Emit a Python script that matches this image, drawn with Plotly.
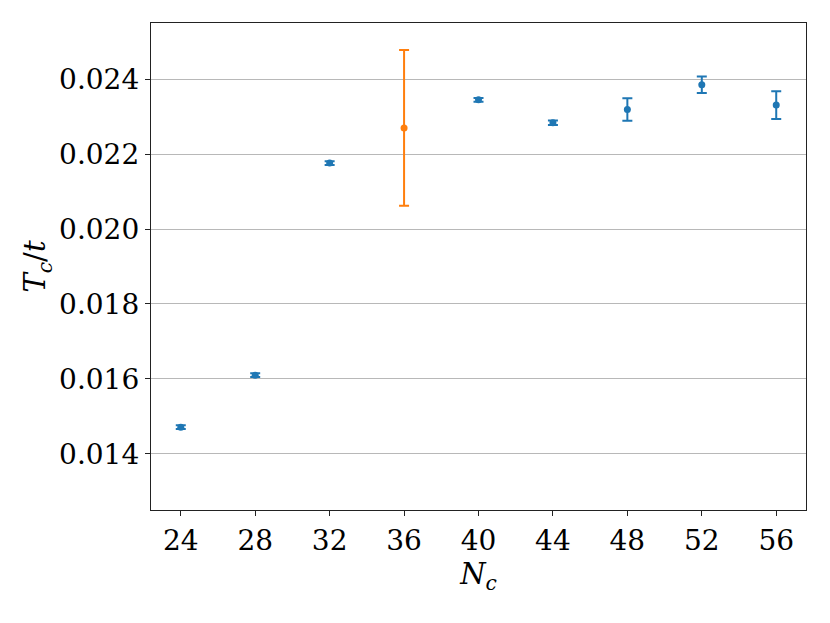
import plotly.graph_objects as go

# blue series
n_blue = [24, 28, 32, 40, 44, 48, 52, 56]
tc_blue = [0.01471, 0.01610, 0.02176, 0.02345, 0.02284, 0.02319, 0.02385, 0.02331]
err_blue = [0.00005, 0.00005, 0.00005, 0.00005, 0.00006, 0.00030, 0.00022, 0.00037]

# orange point
n_orange = [36]
tc_orange = [0.02270]
err_orange = [0.00208]

x_ticks = [24, 28, 32, 36, 40, 44, 48, 52, 56]
y_ticks = [0.014, 0.016, 0.018, 0.020, 0.022, 0.024]

font = "DejaVu Serif"

fig = go.Figure()
fig.add_trace(go.Scatter(
    x=n_blue, y=tc_blue, mode="markers",
    marker=dict(color="#1f77b4", size=7),
    error_y=dict(type="data", array=err_blue, color="#1f77b4", thickness=2, width=5),
    showlegend=False,
))
fig.add_trace(go.Scatter(
    x=n_orange, y=tc_orange, mode="markers",
    marker=dict(color="#ff7f0e", size=7),
    error_y=dict(type="data", array=err_orange, color="#ff7f0e", thickness=2, width=5),
    showlegend=False,
))

# page body has an 8px margin, so the figure is sized to fit inside it
fig.update_layout(
    width=822, height=615,
    margin=dict(l=143, r=24, t=15, b=113),
    plot_bgcolor="white", paper_bgcolor="white",
    font=dict(family=font, size=28, color="black"),
)
fig.update_xaxes(
    range=[22.4, 57.6], tickvals=x_ticks, ticktext=[str(v) for v in x_ticks],
    showgrid=False, zeroline=False,
    showline=True, linecolor="#222", linewidth=1.3, mirror=True,
    ticks="outside", ticklen=5, tickwidth=1.2, tickcolor="#222",
    title=dict(text="<i>N</i><sub><i>c</i></sub>", standoff=2,
               font=dict(family=font, size=29)),
)
fig.update_yaxes(
    range=[0.0125, 0.0255], tickvals=y_ticks, ticktext=[f"{v:.3f}" for v in y_ticks],
    showgrid=True, gridcolor="#b8b8b8", gridwidth=1.4, zeroline=False,
    showline=True, linecolor="#222", linewidth=1.3, mirror=True,
    ticks="outside", ticklen=5, tickwidth=1.2, tickcolor="#222",
    title=dict(text="<i>T</i><sub><i>c</i></sub>/<i>t</i>", standoff=4,
               font=dict(family=font, size=29)),
)

fig.write_html("out.html")
